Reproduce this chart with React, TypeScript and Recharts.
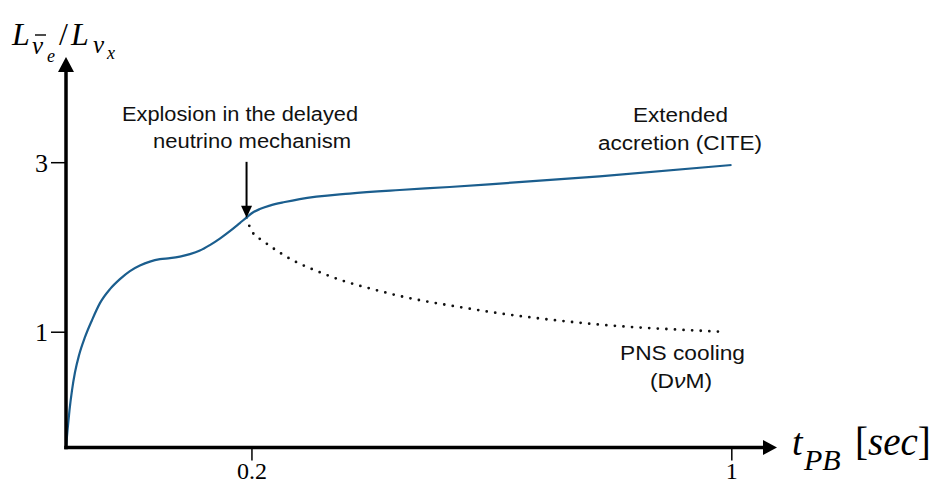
import React from "react";
import {
  LineChart,
  Line,
  XAxis,
  YAxis,
  ReferenceDot,
  ReferenceLine,
} from "recharts";

// schematic curve (t_PB in sec, luminosity ratio)
const accretionT = [
  -0.11, -0.1075, -0.1042, -0.1, -0.095, -0.0883, -0.0784, -0.0667, -0.0534,
  -0.0367, -0.0201, -0.0034, 0.0132, 0.0299, 0.0466, 0.0632, 0.0799, 0.0965,
  0.1132, 0.1298, 0.1465, 0.1632, 0.1798, 0.191, 0.2015, 0.2131, 0.2298,
  0.2548, 0.2797, 0.363, 0.4463, 0.5296, 0.6129, 0.7794, 0.9995,
];
const accretionRatio = [
  -0.36, -0.158, 0.079, 0.315, 0.527, 0.728, 0.941, 1.142, 1.343, 1.508,
  1.626, 1.721, 1.786, 1.833, 1.862, 1.874, 1.892, 1.921, 1.963, 2.028, 2.105,
  2.193, 2.288, 2.353, 2.412, 2.453, 2.494, 2.536, 2.571, 2.636, 2.678, 2.713,
  2.754, 2.839, 2.973,
];

const coolingT = [
  0.191, 0.199, 0.22, 0.244, 0.269, 0.295, 0.322, 0.348, 0.376, 0.403, 0.446,
  0.488, 0.544, 0.6, 0.658, 0.742, 0.829, 0.913, 0.986,
];
const coolingRatio = [
  2.353, 2.2, 2.07, 1.95, 1.845, 1.76, 1.683, 1.615, 1.556, 1.505, 1.428,
  1.367, 1.3, 1.236, 1.181, 1.115, 1.063, 1.03, 1.004,
];

const xTicks = [0.2, 1];
const yTicks = [1, 3];
const xDomain = [-0.11, 1.052];
const yDomain = [-0.36, 4.07];
const explosionT = 0.191;

const accretion = accretionT.map((x, i) => ({ x, y: accretionRatio[i] }));
const cooling = coolingT.map((x, i) => ({ x, y: coolingRatio[i] }));

const serif = '"Liberation Serif", "DejaVu Serif", serif';
const sans = '"Liberation Sans", Arial, sans-serif';

const ArrowUp = (props: any) => {
  const { cx, cy } = props;
  return <path d={`M${cx - 8},${cy} L${cx},${cy - 15} L${cx + 8},${cy} Z`} fill="#000" />;
};

const ArrowRight = (props: any) => {
  const { cx, cy } = props;
  return <path d={`M${cx},${cy - 7.5} L${cx + 14},${cy} L${cx},${cy + 7.5} Z`} fill="#000" />;
};

const ArrowDown = (props: any) => {
  const { cx, cy } = props;
  return <path d={`M${cx - 5.5},${cy - 12} L${cx},${cy} L${cx + 5.5},${cy - 12} Z`} fill="#000" />;
};

export default function App() {
  return (
    <div style={{ position: "absolute", left: 0, top: 0, width: 939, height: 485, background: "#fff" }}>
      <LineChart
        width={939}
        height={485}
        margin={{ top: 72, right: 176, left: 0, bottom: 0 }}
      >
        <XAxis
          type="number"
          dataKey="x"
          domain={xDomain}
          ticks={xTicks}
          interval={0}
          allowDataOverflow
          height={37.5}
          tickSize={13}
          tickMargin={1}
          axisLine={{ stroke: "#000", strokeWidth: 3.5, strokeLinecap: "square" }}
          tickLine={{ stroke: "#000", strokeWidth: 1.5 }}
          tick={{ fontFamily: serif, fontSize: 24, fill: "#000" }}
        />
        <YAxis
          type="number"
          domain={yDomain}
          ticks={yTicks}
          interval={0}
          allowDataOverflow
          width={66}
          tickSize={15}
          tickMargin={3}
          axisLine={{ stroke: "#000", strokeWidth: 3.5, strokeLinecap: "square" }}
          tickLine={{ stroke: "#000", strokeWidth: 1.5 }}
          tick={{ fontFamily: serif, fontSize: 26, fill: "#000" }}
        />
        <Line
          data={cooling}
          dataKey="y"
          type="monotone"
          stroke="#111"
          strokeWidth={2.8}
          strokeDasharray="0 8.6"
          strokeLinecap="round"
          dot={false}
          activeDot={false}
          isAnimationActive={false}
        />
        <Line
          data={accretion}
          dataKey="y"
          type="monotone"
          stroke="#1b5e8e"
          strokeWidth={2.2}
          dot={false}
          activeDot={false}
          isAnimationActive={false}
        />
        <ReferenceLine
          segment={[
            { x: explosionT, y: 3.01 },
            { x: explosionT, y: 2.48 },
          ]}
          stroke="#000"
          strokeWidth={2}
          ifOverflow="visible"
        />
        <ReferenceDot x={explosionT} y={2.35} shape={ArrowDown} ifOverflow="visible" />
        <ReferenceDot x={xDomain[0]} y={yDomain[1]} shape={ArrowUp} ifOverflow="visible" />
        <ReferenceDot x={xDomain[1]} y={yDomain[0]} shape={ArrowRight} ifOverflow="visible" />
      </LineChart>

      <svg
        width={939}
        height={485}
        style={{ position: "absolute", left: 0, top: 0, pointerEvents: "none" }}
      >
        {/* y axis title: L_{nu-bar_e} / L_{nu_x} */}
        <g fontFamily={serif} fontStyle="italic" fill="#000">
          <text x={12} y={45} fontSize={32}>L</text>
          <text x={32} y={54} fontSize={25}>ν</text>
          <line x1={35} y1={35} x2={46} y2={35} stroke="#000" strokeWidth={1.4} />
          <text x={47} y={62} fontSize={18}>e</text>
          <text x={59} y={45} fontSize={32} fontStyle="normal">/</text>
          <text x={71} y={45} fontSize={32}>L</text>
          <text x={93} y={53} fontSize={25}>ν</text>
          <text x={107} y={59} fontSize={18}>x</text>
        </g>

        {/* x axis title */}
        <g fontFamily={serif} fontStyle="italic" fill="#000">
          <text x={792} y={455} fontSize={38}>t</text>
          <text x={804} y={470} fontSize={30}>PB</text>
          <text x={855} y={455} fontSize={39}>
            <tspan fontStyle="normal">[</tspan>sec<tspan fontStyle="normal">]</tspan>
          </text>
        </g>

        <g fontFamily={sans} fontSize={20} fill="#111">
          <text x={122} y={121} textLength={236} lengthAdjust="spacingAndGlyphs">Explosion in the delayed</text>
          <text x={153} y={148} textLength={198} lengthAdjust="spacingAndGlyphs">neutrino mechanism</text>
          <text x={633} y={122} textLength={95} lengthAdjust="spacingAndGlyphs">Extended</text>
          <text x={598} y={150} textLength={164} lengthAdjust="spacingAndGlyphs">accretion (CITE)</text>
          <text x={620} y={360} textLength={125} lengthAdjust="spacingAndGlyphs">PNS cooling</text>
          <text x={650} y={388} textLength={62} lengthAdjust="spacingAndGlyphs">
            (D<tspan fontStyle="italic">ν</tspan>M)
          </text>
        </g>
      </svg>
    </div>
  );
}
